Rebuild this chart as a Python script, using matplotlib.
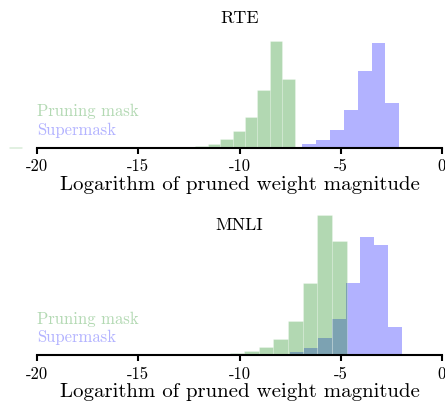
import numpy as np
import matplotlib
matplotlib.use("Agg")
import matplotlib.pyplot as plt

plt.rcParams['font.family'] = ['cmr10', 'DejaVu Serif']
plt.rcParams['axes.unicode_minus'] = False

# histogram data (fraction of weights per bin)
# RTE
rte_prune_range = (-21.36, -7.28)
rte_prune = [0.0044] + [0.002] * 12 + [0.003, 0.0056, 0.011, 0.022, 0.052,
                                       0.096, 0.174, 0.322, 0.594, 0.385]
rte_super_range = (-20.58, -0.06)
rte_super = [0.001] * 18 + [0.003, 0.0056, 0.022, 0.046, 0.102, 0.213,
                            0.429, 0.585, 0.252, 0.007, 0.003, 0.002]
# MNLI
mnli_prune_range = (-19.89, -4.71)
mnli_prune = [0.001] * 11 + [0.003, 0.007, 0.013, 0.026, 0.048, 0.093,
                             0.193, 0.400, 0.778, 0.637]
mnli_super_range = (-20.0, -0.6)
mnli_super = [0.001] * 16 + [0.003, 0.007, 0.021, 0.043, 0.098, 0.204,
                             0.404, 0.659, 0.615, 0.159, 0.002, 0.002]

tasks = ["RTE", "MNLI"]
data = {
    "RTE": (rte_prune_range, rte_prune, rte_super_range, rte_super),
    "MNLI": (mnli_prune_range, mnli_prune, mnli_super_range, mnli_super),
}

green_txt = "#b3d9b3"
blue_txt = "#b3b3ff"

fig = plt.figure(figsize=(4.45, 4.08), dpi=100)
positions = [[37/445, 260/408, 405/445, 117/408],
             [37/445, 52.7/408, 405/445, 117/408]]


def bars(ax, rng, vals, color, **kw):
    edges = np.linspace(rng[0], rng[1], len(vals) + 1)
    return ax.bar(edges[:-1], vals, width=np.diff(edges), align="edge",
                  color=color, alpha=0.3, clip_on=False, **kw)


for task, pos in zip(tasks, positions):
    ax = fig.add_axes(pos)
    prange, pvals, srange, svals = data[task]
    b_sup = bars(ax, srange, svals, "blue", linewidth=0)
    b_pru = bars(ax, prange, pvals, "green", edgecolor="white", linewidth=0.6)

    ax.set_xlim(-20, 0)
    ax.set_ylim(0, 0.65)
    ax.set_xticks([-20, -15, -10, -5, 0])
    ax.set_xticklabels(["-20", "-15", "-10", "-5", "0"])
    ax.set_yticks([])
    for s in ["top", "right", "left"]:
        ax.spines[s].set_visible(False)
    ax.spines["bottom"].set_linewidth(1.5)
    ax.tick_params(axis="x", length=4, width=1.5, labelsize=12, pad=4)
    ax.set_xlabel("Logarithm of pruned weight magnitude", fontsize=15,
                  labelpad=1)
    ax.set_title(task, fontsize=13, pad=6)

    leg = ax.legend([b_pru, b_sup], ["Pruning mask", "Supermask"],
                    loc="lower left", bbox_to_anchor=(0, 0.085), frameon=False,
                    handlelength=0, handletextpad=0, borderaxespad=0,
                    borderpad=0, labelspacing=0.2, fontsize=12)
    for h in leg.legend_handles:
        h.set_visible(False)
    for t, c in zip(leg.get_texts(), [green_txt, blue_txt]):
        t.set_color(c)

fig.savefig("out.png", dpi=100)
